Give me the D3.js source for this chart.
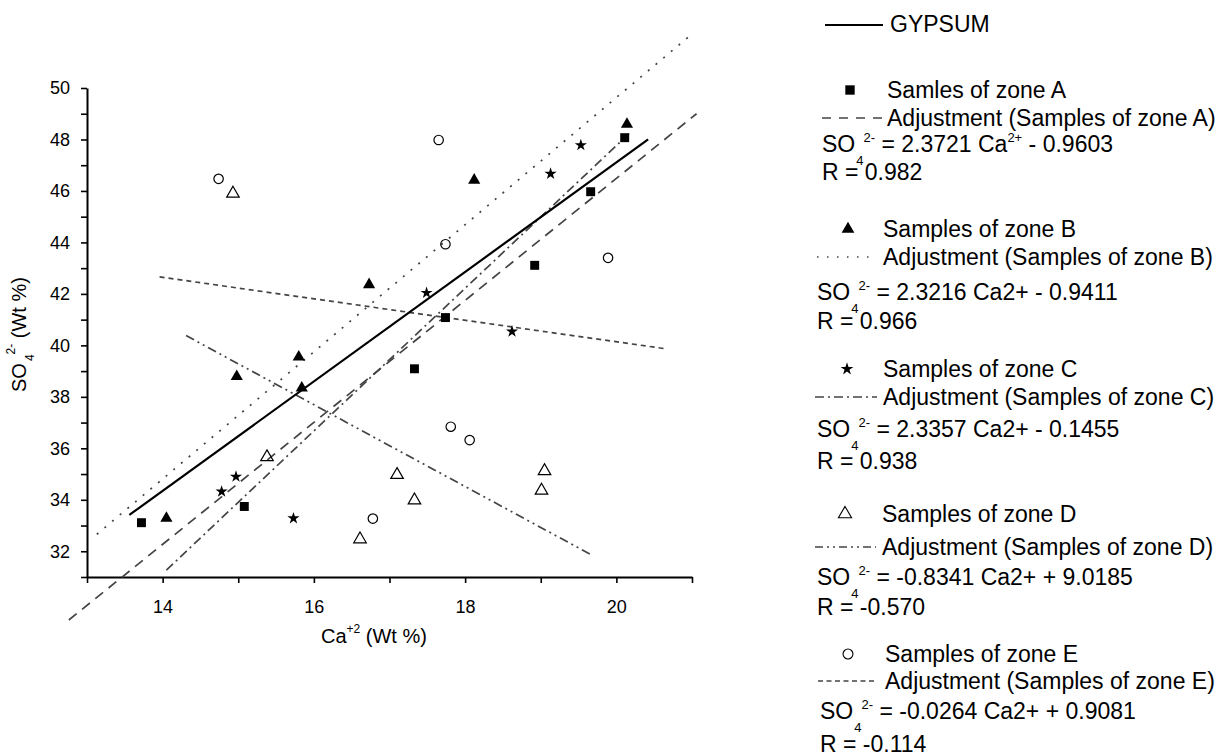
<!DOCTYPE html>
<html>
<head>
<meta charset="utf-8">
<script src="https://cdn.jsdelivr.net/npm/d3@7"></script>
<style>
  body { margin: 0; background: #fff; }
  text { font-family: "Liberation Sans", Arial, sans-serif; fill: #000; }
</style>
</head>
<body>
<svg id="chart"></svg>
<script>
// sample points [Ca, SO4]
const zoneA = [[13.72, 33.11], [15.08, 33.74], [17.33, 39.09], [17.74, 41.08], [18.92, 43.11], [19.66, 45.97], [20.11, 48.07]];
const zoneB = [[14.05, 33.28], [14.98, 38.79], [15.80, 39.55], [15.84, 38.34], [16.73, 42.36], [18.12, 46.42], [20.14, 48.59]];
const zoneC = [[14.78, 34.32], [14.97, 34.90], [15.73, 33.28], [17.49, 42.04], [18.62, 40.54], [19.13, 46.67], [19.53, 47.78]];
const zoneD = [[14.93, 45.90], [15.38, 35.66], [16.61, 32.47], [17.10, 34.97], [17.33, 33.98], [19.01, 34.36], [19.05, 35.12]];
const zoneE = [[14.74, 46.47], [16.78, 33.27], [17.65, 47.98], [17.74, 43.93], [17.81, 36.84], [18.06, 36.32], [19.89, 43.40]];

// adjustment lines (end points) and gypsum line
const gypsum = [[13.56, 33.41], [20.42, 48.0]];
const fitA = [[12.76, 29.33], [21.06, 49.0]];
const fitB = [[13.13, 32.66], [20.98, 52.05]];
const fitC = [[14.05, 31.27], [20.18, 48.26]];
const fitD = [[14.31, 40.38], [19.67, 31.86]];
const fitE = [[13.96, 42.66], [20.67, 39.86]];

const sampleLabels = ['Samles of zone A', 'Samples of zone B', 'Samples of zone C', 'Samples of zone D', 'Samples of zone E'];
const adjustLabels = ['A', 'B', 'C', 'D', 'E'].map(z => `Adjustment (Samples of zone ${z})`);
const eqCoef = ['2.3721', '2.3216', '2.3357', '-0.8341', '-0.0264'];
const eqConst = ['- 0.9603', '- 0.9411', '- 0.1455', '+ 9.0185', '+ 0.9081'];
const rValues = ['0.982', '0.966', '0.938', '-0.570', '-0.114'];

const xTicks = d3.range(13, 22);
const yTicks = d3.range(31, 51);

const W = 1222, H = 755;
const svg = d3.select('#chart').attr('width', W).attr('height', H);

const x = d3.scaleLinear().domain([13, 21]).range([87, 692]);
const y = d3.scaleLinear().domain([31, 50]).range([577, 88]);

const lineCol = '#444';
const styles = [
  { data: zoneA, fit: fitA, symbol: d3.symbolSquare, size: 80, fill: '#000', dash: '10,7', legDash: '9,8' },
  { data: zoneB, fit: fitB, symbol: d3.symbolTriangle, size: 64, fill: '#000', dash: '2,8', legDash: '1.5,8.5' },
  { data: zoneC, fit: fitC, symbol: d3.symbolStar, size: 46, fill: '#000', dash: '9,4,2,4', legDash: '9,4,2,4' },
  { data: zoneD, fit: fitD, symbol: d3.symbolTriangle, size: 68, fill: 'none', dash: '9,4,2,4,2,4', legDash: '8,4,2,4,2,4' },
  { data: zoneE, fit: fitE, symbol: d3.symbolCircle, size: 70, fill: 'none', dash: '5,4', legDash: '5,3.5' },
];

// axes
const xAxis = g => g
  .attr('transform', `translate(0,${y(31)})`)
  .call(d3.axisBottom(x)
    .tickValues(xTicks)
    .tickSize(6)
    .tickSizeOuter(0)
    .tickPadding(17)
    .tickFormat(d => (d % 2 === 0 ? d : '')))
  .call(g => g.select('.domain').attr('stroke-width', 2))
  .call(g => g.selectAll('.tick line').attr('stroke-width', 1.6))
  .call(g => g.selectAll('.tick text').attr('font-size', 18).attr('font-family', '"Liberation Sans", Arial, sans-serif'));

const yAxis = g => g
  .attr('transform', `translate(${x(13)},0)`)
  .call(d3.axisLeft(y)
    .tickValues(yTicks)
    .tickSize(6)
    .tickSizeOuter(0)
    .tickPadding(11)
    .tickFormat(d => (d % 2 === 0 ? d : '')))
  .call(g => g.select('.domain').attr('stroke-width', 2))
  .call(g => g.selectAll('.tick line').attr('stroke-width', 1.6))
  .call(g => g.selectAll('.tick text').attr('font-size', 18).attr('font-family', '"Liberation Sans", Arial, sans-serif'));

svg.append('g').call(xAxis);
svg.append('g').call(yAxis);

// axis titles
const xt = svg.append('text').attr('x', 321).attr('y', 643).attr('font-size', 20);
xt.append('tspan').text('Ca');
xt.append('tspan').attr('font-size', 12).attr('dy', -10).text('+2');
xt.append('tspan').attr('dy', 10).text(' (Wt %)');

const yt = svg.append('text')
  .attr('transform', 'translate(26,392) rotate(-90)')
  .attr('font-size', 20);
yt.append('tspan').text('SO');
yt.append('tspan').attr('font-size', 12).attr('dx', 2).attr('dy', 8).text('4');
yt.append('tspan').attr('font-size', 12).attr('dy', -19).text('2-');
yt.append('tspan').attr('dy', 11).text(' (Wt %)');

// lines
const line = d3.line().x(d => x(d[0])).y(d => y(d[1]));

styles.forEach(s => {
  svg.append('path')
    .attr('d', line(s.fit))
    .attr('fill', 'none')
    .attr('stroke', lineCol)
    .attr('stroke-width', 1.7)
    .attr('stroke-dasharray', s.dash);
});

svg.append('path')
  .attr('d', line(gypsum))
  .attr('fill', 'none')
  .attr('stroke', '#000')
  .attr('stroke-width', 2.2);

// points
styles.forEach(s => {
  svg.append('g')
    .selectAll('path')
    .data(s.data)
    .join('path')
    .attr('transform', d => `translate(${x(d[0])},${y(d[1])})`)
    .attr('d', d3.symbol(s.symbol, s.size))
    .attr('fill', s.fill)
    .attr('stroke', '#000')
    .attr('stroke-width', s.fill === 'none' ? 1.2 : 0);
});

// legend
const lg = svg.append('g').attr('font-size', 23);

lg.append('line').attr('x1', 825).attr('x2', 883).attr('y1', 25).attr('y2', 25)
  .attr('stroke', '#000').attr('stroke-width', 2.2);
lg.append('text').attr('x', 890).attr('y', 32).text('GYPSUM');

const legTop = [98, 237, 377, 522, 662];
const textX = [887, 883, 883, 882, 885];
const eqX = [822, 817, 817, 817, 820];
const symX = [850, 848, 847, 845, 848];
const smpX = [[822, 886], [817, 869], [815, 877], [815, 876], [818, 877]];
const adjOff = [28, 28, 28, 33, 27];
const eqOff = [54, 63, 60, 63, 57];
const rOff = [82, 92, 92, 93, 90];

styles.forEach((s, i) => {
  const top = legTop[i];
  lg.append('path')
    .attr('transform', `translate(${symX[i]},${top - 8})`)
    .attr('d', d3.symbol(s.symbol, s.size * 1.1))
    .attr('fill', s.fill)
    .attr('stroke', '#000')
    .attr('stroke-width', s.fill === 'none' ? 1.1 : 0);
  lg.append('text').attr('x', textX[i]).attr('y', top).text(sampleLabels[i]);

  lg.append('line')
    .attr('x1', smpX[i][0]).attr('x2', smpX[i][1])
    .attr('y1', top + adjOff[i] - 8).attr('y2', top + adjOff[i] - 8)
    .attr('stroke', lineCol).attr('stroke-width', 1.3)
    .attr('stroke-dasharray', s.legDash);
  lg.append('text').attr('x', textX[i]).attr('y', top + adjOff[i]).text(adjustLabels[i]);

  const eq = lg.append('text').attr('x', eqX[i]).attr('y', top + eqOff[i]);
  eq.append('tspan').text('SO');
  eq.append('tspan').attr('font-size', 13).attr('dx', 1).attr('dy', 13).text('4');
  eq.append('tspan').attr('font-size', 13).attr('dy', -23).text('2-');
  if (i === 0) {
    eq.append('tspan').attr('dy', 10).text(` = ${eqCoef[i]} Ca`);
    eq.append('tspan').attr('font-size', 13).attr('dy', -10).text('2+');
    eq.append('tspan').attr('dy', 10).text(` ${eqConst[i]}`);
  } else {
    eq.append('tspan').attr('dy', 10).text(` = ${eqCoef[i]} Ca2+ ${eqConst[i]}`);
  }

  lg.append('text').attr('x', eqX[i]).attr('y', top + rOff[i]).text(`R = ${rValues[i]}`);
});
</script>
</body>
</html>
